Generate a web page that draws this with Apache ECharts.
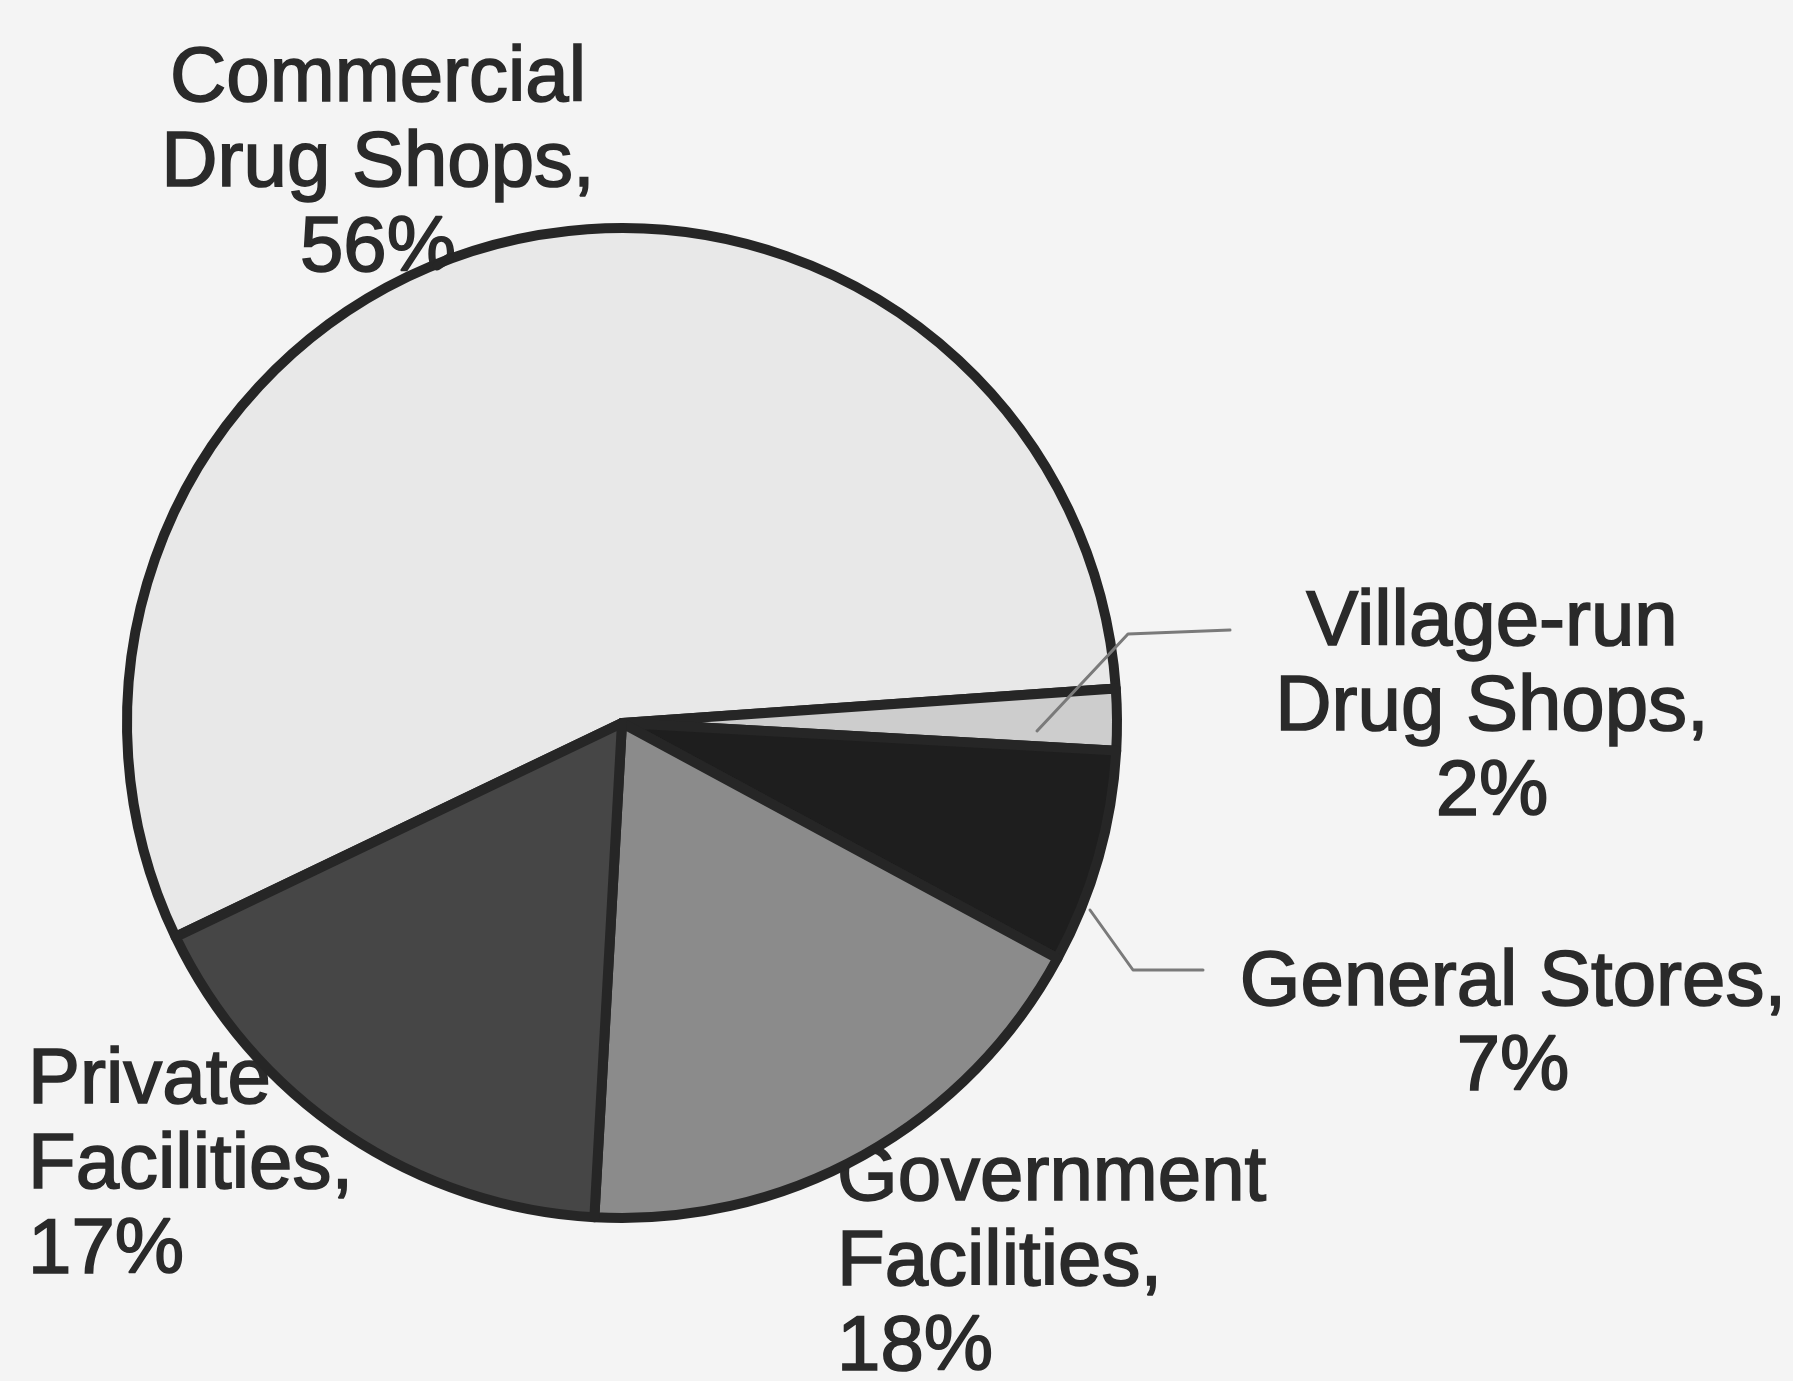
<!DOCTYPE html>
<html>
<head>
<meta charset="utf-8">
<title>Drug outlets</title>
<script src="https://cdn.jsdelivr.net/npm/echarts@6/dist/echarts.min.js"></script>
<style>
  html, body { margin: 0; padding: 0; background: #f4f4f4; }
  #chart { width: 1793px; height: 1381px; }
</style>
</head>
<body>
<div id="chart"></div>
<script>
// Outlet types and their share of the total (%)
const categories = ['Commercial\nDrug Shops', 'Village-run\nDrug Shops', 'General Stores', 'Government\nFacilities', 'Private\nFacilities'];
const shares = [56, 2, 7, 18, 17];
const sliceColors = ['#e8e8e8', '#cdcdcd', '#1e1e1e', '#8b8b8b', '#464646'];

// Where each label block sits (top edge of text) and how it is aligned
const labelPlacement = [
  { x: 378,  y: 37,   align: 'center' },
  { x: 1492, y: 581,  align: 'center' },
  { x: 1513, y: 941,  align: 'center' },
  { x: 837,  y: 1136, align: 'left' },
  { x: 28,   y: 1039, align: 'left' }
];

// Leader lines joining labels to their slices
const leaderLines = [
  { points: [[1037, 731], [1128, 634], [1230, 630]], color: '#7a7a7a', width: 3 },
  { points: [[1090, 910], [1133, 970], [1203, 970]], color: '#7a7a7a', width: 3 },
  { points: [[449, 258], [437, 266]], color: '#262626', width: 9 }
];

const FONT = '"Liberation Sans", Arial, Helvetica, sans-serif';
const pieCenter = [622, 723];
const pieRadius = 495;
const startAngle = 205.6;

function placeLabel(params) {
  const p = labelPlacement[params.dataIndex];
  return { x: p.x, y: p.y, align: p.align, verticalAlign: 'top' };
}

const chart = echarts.init(document.getElementById('chart'), null, { renderer: 'canvas' });

chart.setOption({
  backgroundColor: '#f4f4f4',
  animation: false,
  graphic: leaderLines.map(l => ({
    type: 'polyline',
    z: 10,
    silent: true,
    shape: { points: l.points },
    style: { stroke: l.color, lineWidth: l.width, fill: null, lineJoin: 'round', lineCap: 'round' }
  })),
  series: [
    {
      // text layer, kept beneath the slices
      name: 'labels',
      type: 'pie',
      z: 1,
      silent: true,
      center: pieCenter,
      radius: pieRadius,
      startAngle: startAngle,
      clockwise: true,
      avoidLabelOverlap: false,
      itemStyle: { color: 'rgba(0,0,0,0)', borderWidth: 0 },
      label: {
        show: true,
        position: 'outside',
        formatter: (prm) => prm.name + ',\n' + prm.value + '%',
        fontFamily: FONT,
        fontSize: 78,
        lineHeight: 85,
        color: '#2a2a2a',
        textBorderColor: '#2a2a2a',
        textBorderWidth: 1.6
      },
      labelLine: { show: false },
      labelLayout: placeLabel,
      data: categories.map((c, i) => ({ name: c, value: shares[i] }))
    },
    {
      name: 'slices',
      type: 'pie',
      z: 2,
      silent: true,
      center: pieCenter,
      radius: pieRadius,
      startAngle: startAngle,
      clockwise: true,
      itemStyle: { borderColor: '#262626', borderWidth: 10, borderJoin: 'round' },
      label: { show: false },
      labelLine: { show: false },
      data: categories.map((c, i) => ({
        name: c,
        value: shares[i],
        itemStyle: { color: sliceColors[i] }
      }))
    }
  ]
});
</script>
</body>
</html>
